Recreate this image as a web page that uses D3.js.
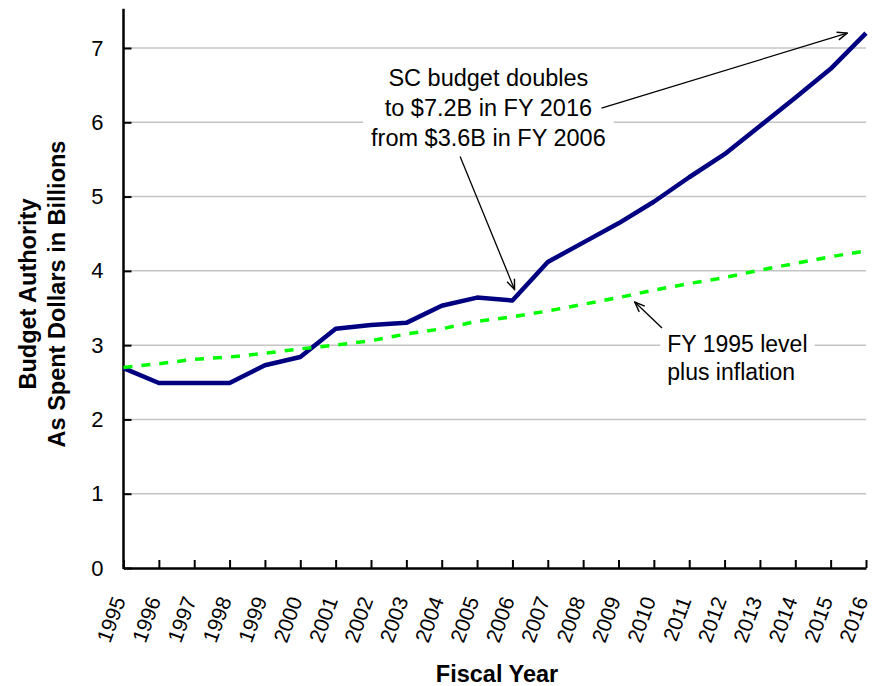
<!DOCTYPE html>
<html>
<head>
<meta charset="utf-8">
<script src="https://cdn.jsdelivr.net/npm/d3@7"></script>
<style>
  body { margin: 0; background: #fff; }
  svg { display: block; font-family: "Liberation Sans", Arial, sans-serif; }
</style>
</head>
<body>
<svg id="chart" width="872" height="686"></svg>
<script>
// fiscal years (x categories)
const years = [1995, 1996, 1997, 1998, 1999, 2000, 2001, 2002, 2003, 2004, 2005,
               2006, 2007, 2008, 2009, 2010, 2011, 2012, 2013, 2014, 2015, 2016];

// SC budget authority, as spent $B
const scBudget = [2.69, 2.49, 2.49, 2.49, 2.73, 2.84, 3.22, 3.27, 3.30, 3.53, 3.64,
                  3.60, 4.12, 4.38, 4.64, 4.93, 5.26, 5.57, 5.95, 6.33, 6.72, 7.20];

// FY 1995 level plus inflation
const inflation = [2.70, 2.75, 2.81, 2.84, 2.89, 2.95, 3.00, 3.06, 3.15, 3.22, 3.32,
                   3.38, 3.46, 3.55, 3.64, 3.74, 3.83, 3.91, 4.01, 4.10, 4.19, 4.27];

const yTicks = [0, 1, 2, 3, 4, 5, 6, 7];

// annotation text, placed in data units (year, $B)
const noteDoubles = ["SC budget doubles", "to $7.2B in FY 2016", "from $3.6B in FY 2006"];
const noteInflation = ["FY 1995 level", "plus inflation"];

// arrows: [x1, y1, x2, y2] in data units, tip at the second point
const arrows = [
  [2008.52, 6.19, 2015.47, 7.20],
  [2004.52, 5.54, 2006.06, 3.75],
  [2010.23, 3.23, 2009.46, 3.58]
];

const svg = d3.select("#chart");

const x = d3.scaleLinear().domain([1995, 2016]).range([123.5, 866]);
const y = d3.scaleLinear().domain([0, 7]).range([568, 48]);

// gridlines
svg.append("g")
  .selectAll("line")
  .data(yTicks.filter(d => d > 0))
  .enter().append("line")
    .attr("x1", x(1995)).attr("x2", x(2016))
    .attr("y1", d => y(d)).attr("y2", d => y(d))
    .attr("stroke", "#c4c4c4")
    .attr("stroke-width", 1.5);

// annotation text with white backing boxes
function addNote(lines, xv, yv, anchor, size, lead, pad) {
  const g = svg.append("g");
  const box = g.append("rect").attr("fill", "#fff");
  const t = g.append("text")
    .attr("x", x(xv)).attr("y", y(yv))
    .attr("text-anchor", anchor)
    .attr("font-size", size + "px")
    .attr("fill", "#000");
  lines.forEach((s, i) => {
    t.append("tspan")
      .attr("x", x(xv))
      .attr("dy", i === 0 ? 0 : lead)
      .text(s);
  });
  const bb = t.node().getBBox();
  box.attr("x", bb.x - pad).attr("y", bb.y - 2)
    .attr("width", bb.width + pad * 2).attr("height", bb.height + 4);
}
addNote(noteDoubles, 2005.32, 6.488, "middle", 23.5, 30, 8);
addNote(noteInflation, 2010.38, 2.907, "start", 23, 28, 7);

// y axis
const yAxis = d3.axisLeft(y)
  .tickValues(yTicks)
  .tickFormat(d3.format("d"))
  .tickSizeInner(-8)
  .tickSizeOuter(0)
  .tickPadding(20);

const gy = svg.append("g")
  .attr("transform", `translate(${x(1995)},0)`)
  .call(yAxis);
gy.select(".domain").remove();
gy.selectAll(".tick line").attr("stroke", "#000").attr("stroke-width", 2);
gy.selectAll(".tick text")
  .attr("font-size", "22px")
  .attr("font-family", "Liberation Sans, Arial, sans-serif")
  .attr("fill", "#000");
gy.append("line")
  .attr("x1", 0).attr("x2", 0)
  .attr("y1", y(0) + 1).attr("y2", y(7.53))
  .attr("stroke", "#000")
  .attr("stroke-width", 2.5);

// x axis
const xAxis = d3.axisBottom(x)
  .tickValues(years)
  .tickFormat(d3.format("d"))
  .tickSizeInner(-8)
  .tickSizeOuter(0);

const gx = svg.append("g")
  .attr("transform", `translate(0,${y(0)})`)
  .call(xAxis);
gx.select(".domain").attr("stroke", "#000").attr("stroke-width", 2.5);
gx.selectAll(".tick line").attr("stroke", "#000").attr("stroke-width", 2);
gx.selectAll(".tick text")
  .attr("font-size", "21px")
  .attr("font-family", "Liberation Sans, Arial, sans-serif")
  .attr("fill", "#000")
  .attr("x", 0).attr("y", 0).attr("dy", 0)
  .attr("text-anchor", "end")
  .attr("transform", "translate(2,32) rotate(-70)");

// series lines
const line = d3.line()
  .x((d, i) => x(years[i]))
  .y(d => y(d));

svg.append("path")
  .datum(scBudget)
  .attr("fill", "none")
  .attr("stroke", "#000080")
  .attr("stroke-width", 4.5)
  .attr("stroke-linejoin", "round")
  .attr("d", line);

svg.append("path")
  .datum(inflation)
  .attr("fill", "none")
  .attr("stroke", "#00ff00")
  .attr("stroke-width", 3.5)
  .attr("stroke-dasharray", "9,9")
  .attr("d", line);

// arrows
svg.append("defs").append("marker")
  .attr("id", "head")
  .attr("viewBox", "0 0 12 10")
  .attr("refX", 11).attr("refY", 5)
  .attr("markerWidth", 12).attr("markerHeight", 10)
  .attr("markerUnits", "userSpaceOnUse")
  .attr("orient", "auto")
  .append("path")
    .attr("d", "M1,1 L11,5 L1,9")
    .attr("fill", "none")
    .attr("stroke", "#000")
    .attr("stroke-width", 1.4);

svg.append("g")
  .selectAll("line")
  .data(arrows)
  .enter().append("line")
    .attr("x1", d => x(d[0])).attr("y1", d => y(d[1]))
    .attr("x2", d => x(d[2])).attr("y2", d => y(d[3]))
    .attr("stroke", "#000")
    .attr("stroke-width", 1.3)
    .attr("marker-end", "url(#head)");

// axis titles
svg.append("text")
  .attr("transform", `translate(36,294) rotate(-90)`)
  .attr("text-anchor", "middle")
  .attr("font-size", "23.5px")
  .attr("font-weight", "bold")
  .text("Budget Authority");

svg.append("text")
  .attr("transform", `translate(65,294) rotate(-90)`)
  .attr("text-anchor", "middle")
  .attr("font-size", "23.5px")
  .attr("font-weight", "bold")
  .text("As Spent Dollars in Billions");

svg.append("text")
  .attr("x", 497)
  .attr("y", 682)
  .attr("text-anchor", "middle")
  .attr("font-size", "23.5px")
  .attr("font-weight", "bold")
  .text("Fiscal Year");
</script>
</body>
</html>
